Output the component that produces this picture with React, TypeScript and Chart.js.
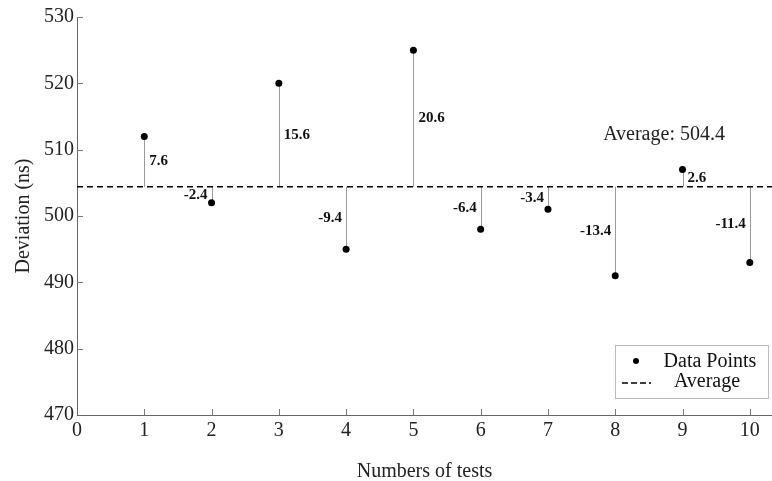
import React, { useEffect, useRef } from 'react';
import { Chart, registerables } from 'chart.js';

Chart.register(...registerables);

const tests = [1, 2, 3, 4, 5, 6, 7, 8, 9, 10];
const deviations = [512, 502, 520, 495, 525, 498, 501, 491, 507, 493];
const average = 504.4;
const differenceLabels = ['7.6', '-2.4', '15.6', '-9.4', '20.6', '-6.4', '-3.4', '-13.4', '2.6', '-11.4'];
const xTickValues = [1, 2, 3, 4, 5, 6, 7, 8, 9, 10];
const yTickValues = [480, 490, 500, 510, 520, 530];
const xMin = 0;
const xMax = 10.33;
const yMin = 470;
const yMax = 530;
const averageText = 'Average: 504.4';
const averageTextAt = { x: 7.82, y: 512.3 };

const SERIF = '"Liberation Serif", "Times New Roman", serif';

const decorPlugin = {
  id: 'decor',
  beforeDatasetsDraw(chart: any) {
    const { ctx, chartArea, scales } = chart;
    const xs = scales.x;
    const ys = scales.y;
    ctx.save();
    // stems
    ctx.strokeStyle = '#9a9a9a';
    ctx.lineWidth = 1;
    const yAvg = ys.getPixelForValue(average);
    tests.forEach((t, i) => {
      const px = Math.round(xs.getPixelForValue(t)) + 0.5;
      const py = ys.getPixelForValue(deviations[i]);
      ctx.beginPath();
      ctx.moveTo(px, yAvg);
      ctx.lineTo(px, py);
      ctx.stroke();
    });
    // inside ticks
    ctx.strokeStyle = '#777';
    xTickValues.forEach((v) => {
      const px = Math.round(xs.getPixelForValue(v)) + 0.5;
      ctx.beginPath();
      ctx.moveTo(px, chartArea.bottom);
      ctx.lineTo(px, chartArea.bottom - 6);
      ctx.stroke();
    });
    yTickValues.forEach((v) => {
      const py = Math.round(ys.getPixelForValue(v)) + 0.5;
      ctx.beginPath();
      ctx.moveTo(chartArea.left, py);
      ctx.lineTo(chartArea.left + 6, py);
      ctx.stroke();
    });
    ctx.restore();
  },
  afterDatasetsDraw(chart: any) {
    const { ctx, chartArea, scales } = chart;
    const xs = scales.x;
    const ys = scales.y;
    ctx.save();
    const yAvg = ys.getPixelForValue(average);
    ctx.font = 'bold 15px ' + SERIF;
    ctx.fillStyle = '#111';
    ctx.textBaseline = 'middle';
    tests.forEach((t, i) => {
      const px = xs.getPixelForValue(t);
      const py = ys.getPixelForValue(deviations[i]);
      const mid = (yAvg + py) / 2;
      const positive = deviations[i] >= average;
      ctx.textAlign = positive ? 'left' : 'right';
      ctx.fillText(differenceLabels[i], positive ? px + 5 : px - 4, mid);
    });
    // average text
    ctx.font = '20px ' + SERIF;
    ctx.fillStyle = '#222';
    ctx.textAlign = 'left';
    ctx.fillText(averageText, xs.getPixelForValue(averageTextAt.x), ys.getPixelForValue(averageTextAt.y));
    // legend box
    const bw = 153;
    const bh = 53;
    const bx = chartArea.right - 4 - bw;
    const by = chartArea.bottom - 17 - bh;
    ctx.fillStyle = '#fff';
    ctx.fillRect(bx, by, bw, bh);
    ctx.strokeStyle = '#bbb';
    ctx.lineWidth = 1;
    ctx.strokeRect(Math.round(bx) + 0.5, Math.round(by) + 0.5, bw, bh);
    const row1 = by + 17;
    const row2 = by + 37;
    // dot
    ctx.fillStyle = '#000';
    ctx.beginPath();
    ctx.arc(bx + 21, row1 - 1, 3, 0, Math.PI * 2);
    ctx.fill();
    // dashes
    ctx.strokeStyle = '#000';
    ctx.lineWidth = 1.5;
    ctx.setLineDash([6, 3]);
    ctx.beginPath();
    ctx.moveTo(bx + 7, row2 + 1);
    ctx.lineTo(bx + 36, row2 + 1);
    ctx.stroke();
    ctx.setLineDash([]);
    ctx.fillStyle = '#111';
    ctx.font = '20px ' + SERIF;
    ctx.textAlign = 'center';
    ctx.textBaseline = 'middle';
    ctx.fillText('Data Points', bx + 95, row1);
    ctx.fillText('Average', bx + 92, row2);
    ctx.restore();
  },
};

export default function App() {
  const canvasRef = useRef<HTMLCanvasElement | null>(null);

  useEffect(() => {
    const canvas = canvasRef.current;
    if (!canvas) return;
    const chart = new Chart(canvas, {
      type: 'scatter',
      data: {
        datasets: [
          {
            label: 'Data Points',
            data: tests.map((t, i) => ({ x: t, y: deviations[i] })),
            pointRadius: 3.5,
            pointBackgroundColor: '#000',
            pointBorderWidth: 0,
            showLine: false,
          },
          {
            label: 'Average',
            type: 'line',
            data: [
              { x: xMin, y: average },
              { x: xMax, y: average },
            ],
            borderColor: '#000',
            borderWidth: 1.6,
            borderDash: [6, 4],
            pointRadius: 0,
            fill: false,
          },
        ],
      } as any,
      options: {
        animation: false,
        responsive: false,
        devicePixelRatio: 1,
        layout: { autoPadding: false, padding: { top: 17, right: 0, left: 0, bottom: 0 } },
        plugins: {
          legend: { display: false },
          tooltip: { enabled: false },
        },
        scales: {
          x: {
            type: 'linear',
            min: xMin,
            max: xMax,
            afterFit: (s: any) => {
              s.height = 66;
              s.paddingRight = 0;
              s.paddingLeft = 0;
            },
            grid: { display: true, drawOnChartArea: false, drawTicks: false },
            border: { display: true, color: '#666', width: 1 },
            ticks: {
              stepSize: 1,
              includeBounds: false,
              padding: 4,
              color: '#222',
              font: { family: SERIF, size: 20 },
            },
            title: {
              display: true,
              text: 'Numbers of tests',
              color: '#222',
              font: { family: SERIF, size: 20 },
              padding: { top: 0, bottom: -3 },
            },
          },
          y: {
            type: 'linear',
            min: yMin,
            max: yMax,
            afterFit: (s: any) => {
              s.width = 77;
              s.paddingTop = 0;
              s.paddingBottom = 0;
            },
            grid: { display: true, drawOnChartArea: false, drawTicks: false },
            border: { display: true, color: '#666', width: 1 },
            ticks: {
              stepSize: 10,
              padding: 3,
              color: '#222',
              font: { family: SERIF, size: 20 },
            },
            title: {
              display: true,
              text: 'Deviation (ns)',
              color: '#222',
              font: { family: SERIF, size: 20 },
              padding: { top: 12, bottom: 0 },
            },
          },
        },
      } as any,
      plugins: [decorPlugin],
    });
    return () => chart.destroy();
  }, []);

  return (
    <div style={{ position: 'absolute', left: 0, top: 0, width: 772, height: 481, background: '#fff' }}>
      <canvas ref={canvasRef} width={772} height={481} style={{ width: 772, height: 481, display: 'block' }} />
    </div>
  );
}
